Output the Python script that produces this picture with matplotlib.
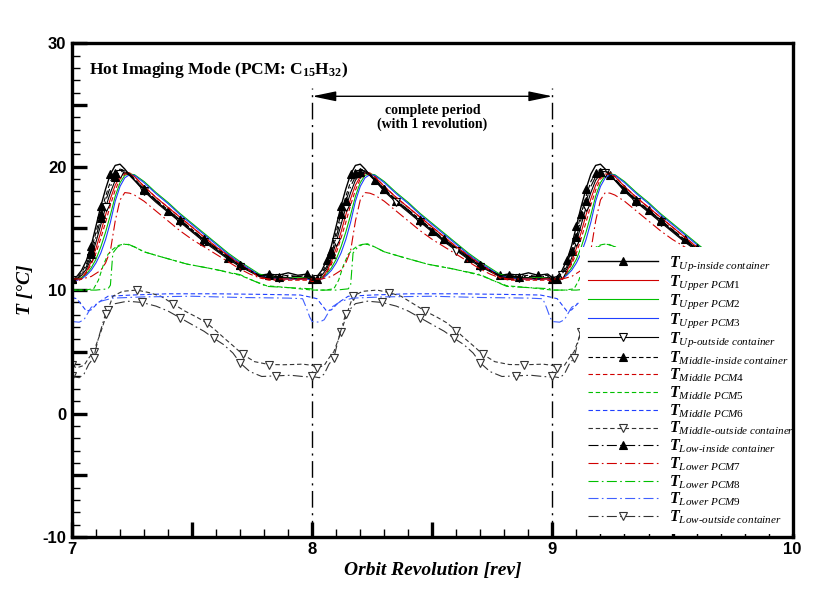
import numpy as np
import matplotlib
matplotlib.use('Agg')
import matplotlib.pyplot as plt
from matplotlib.ticker import MultipleLocator, FuncFormatter

plt.rcParams['mathtext.fontset'] = 'custom'
plt.rcParams['mathtext.rm'] = 'Liberation Serif'
plt.rcParams['mathtext.it'] = 'Liberation Serif:italic'
plt.rcParams['mathtext.bf'] = 'Liberation Serif:bold'
plt.rcParams['mathtext.bfit'] = 'Liberation Serif:italic:bold'

# ---------------- data (one orbit period, phase 0..1) ----------------
revolutions = [7, 8, 9]

ph_up = [0.00, 0.02, 0.04, 0.06, 0.08, 0.10, 0.12, 0.14, 0.16, 0.18, 0.20, 0.22, 0.24, 0.26,
         0.30, 0.35, 0.40, 0.45, 0.50, 0.55, 0.60, 0.65, 0.70, 0.74, 0.78, 0.82, 0.86, 0.90,
         0.94, 0.98, 1.00]
up_inside = [11.0, 11.1, 11.6, 12.4, 13.6, 15.2, 16.8, 18.2, 19.4, 20.1, 20.2, 19.8, 19.3, 18.9,
             18.1, 17.2, 16.4, 15.6, 14.8, 14.0, 13.3, 12.6, 12.0, 11.6, 11.2, 11.3, 11.2, 11.4,
             11.2, 11.3, 11.0]
upper_pcm1 = [10.8, 10.8, 11.0, 11.5, 12.3, 13.4, 14.7, 16.1, 17.4, 18.5, 19.2, 19.5, 19.5, 19.2,
              18.4, 17.5, 16.7, 15.9, 15.1, 14.3, 13.5, 12.8, 12.1, 11.6, 11.1, 10.9, 10.9, 10.9,
              10.9, 10.9, 10.8]
upper_pcm2 = [10.9, 10.9, 11.0, 11.3, 11.8, 12.5, 13.5, 14.7, 16.1, 17.6, 18.7, 19.3, 19.4, 19.35,
              18.8, 17.9, 17.1, 16.2, 15.4, 14.6, 13.8, 13.0, 12.3, 11.8, 11.3, 11.1, 11.0, 11.0,
              11.0, 11.0, 10.9]
upper_pcm3 = [10.8, 10.8, 10.9, 11.2, 11.6, 12.2, 13.0, 14.1, 15.5, 17.2, 18.4, 19.1, 19.35, 19.3,
              18.7, 17.8, 17.0, 16.1, 15.3, 14.5, 13.7, 12.9, 12.2, 11.7, 11.2, 11.0, 10.9, 10.9,
              10.9, 10.9, 10.8]
up_outside = [10.8, 10.9, 11.2, 11.7, 12.6, 13.9, 15.3, 16.7, 17.9, 18.9, 19.4, 19.5, 19.3, 18.9,
              18.0, 17.1, 16.3, 15.5, 14.7, 13.9, 13.2, 12.5, 11.9, 11.5, 11.1, 11.0, 11.0, 11.0,
              10.9, 11.0, 10.8]
mid_inside = [10.9, 11.0, 11.4, 12.1, 13.2, 14.7, 16.2, 17.6, 18.8, 19.5, 19.8, 19.7, 19.4, 19.0,
              18.2, 17.3, 16.5, 15.7, 14.9, 14.1, 13.4, 12.7, 12.0, 11.6, 11.2, 11.2, 11.1, 11.2,
              11.1, 11.2, 10.9]
mid_pcm4 = [10.7, 10.7, 10.9, 11.4, 12.1, 13.0, 14.2, 15.5, 16.9, 18.1, 19.0, 19.4, 19.4, 19.2,
            18.4, 17.5, 16.7, 15.9, 15.1, 14.3, 13.5, 12.8, 12.1, 11.6, 11.0, 10.8, 10.8, 10.8,
            10.8, 10.8, 10.7]
low_inside = [10.9, 10.9, 11.3, 11.9, 12.9, 14.3, 15.8, 17.2, 18.4, 19.2, 19.6, 19.6, 19.4, 19.0,
              18.2, 17.3, 16.5, 15.7, 14.9, 14.1, 13.4, 12.7, 12.0, 11.6, 11.2, 11.1, 11.1, 11.1,
              11.1, 11.1, 10.9]

ph_pcm5 = [0.00, 0.05, 0.09, 0.11, 0.13, 0.15, 0.17, 0.19, 0.21, 0.23, 0.26, 0.30, 0.37, 0.48,
           0.59, 0.70, 0.75, 0.81, 0.90, 1.00]
mid_pcm5 = [10.0, 10.0, 10.1, 10.8, 12.0, 12.9, 13.3, 13.6, 13.7, 13.7, 13.5, 13.1, 12.7, 12.1,
            11.7, 11.2, 10.8, 10.35, 10.2, 10.0]

ph_pcm6 = [0.00, 0.02, 0.04, 0.06, 0.08, 0.11, 0.15, 0.25, 0.40, 0.60, 0.80, 0.95, 1.00]
mid_pcm6 = [9.4, 9.3, 8.8, 8.3, 8.4, 9.0, 9.5, 9.6, 9.7, 9.7, 9.65, 9.6, 9.4]

ph_mid_out = [0.00, 0.02, 0.05, 0.07, 0.09, 0.12, 0.15, 0.17, 0.21, 0.27, 0.32, 0.37, 0.42, 0.47,
              0.52, 0.56, 0.60, 0.64, 0.67, 0.71, 0.76, 0.82, 0.88, 0.92, 0.96, 1.00]
mid_outside = [3.9, 3.7, 3.9, 4.5, 5.0, 6.6, 8.4, 9.5, 9.9, 10.0, 9.8, 9.5, 8.9, 8.3,
               7.8, 7.35, 6.7, 6.0, 5.5, 4.8, 4.2, 3.97, 3.95, 3.97, 4.0, 3.9]

ph_pcm7 = [0.00, 0.04, 0.08, 0.12, 0.14, 0.16, 0.18, 0.20, 0.22, 0.24, 0.26, 0.30, 0.35, 0.40,
           0.45, 0.50, 0.55, 0.60, 0.65, 0.70, 0.74, 0.78, 0.82, 0.90, 1.00]
low_pcm7 = [10.9, 10.9, 11.1, 11.6, 12.2, 13.2, 15.6, 17.3, 17.9, 17.85, 17.7, 17.2, 16.4, 15.6,
            14.8, 14.1, 13.5, 12.9, 12.3, 11.7, 11.3, 11.0, 10.9, 10.9, 10.9]

ph_pcm8 = [0.00, 0.05, 0.10, 0.15, 0.16, 0.17, 0.19, 0.21, 0.23, 0.26, 0.30, 0.37, 0.48, 0.59,
           0.70, 0.75, 0.81, 0.90, 1.00]
low_pcm8 = [10.0, 10.0, 10.0, 10.1, 10.4, 13.0, 13.5, 13.7, 13.75, 13.5, 13.1, 12.7, 12.1, 11.7,
            11.25, 10.8, 10.3, 10.2, 10.1]

ph_pcm9 = [0.00, 0.03, 0.05, 0.08, 0.12, 0.17, 0.30, 0.50, 0.70, 0.90, 0.96, 0.975, 0.99, 1.00]
low_pcm9 = [7.45, 7.4, 7.6, 8.6, 9.1, 9.35, 9.45, 9.5, 9.4, 9.35, 9.3, 8.6, 7.8, 7.45]

ph_low_out = [0.00, 0.03, 0.05, 0.07, 0.09, 0.11, 0.14, 0.18, 0.23, 0.29, 0.35, 0.40, 0.45, 0.50,
              0.55, 0.59, 0.63, 0.67, 0.70, 0.74, 0.79, 0.85, 0.91, 0.96, 1.00]
low_outside = [3.0, 2.9, 3.2, 4.0, 4.5, 6.1, 8.1, 8.9, 9.1, 9.0, 8.7, 8.3, 7.75, 7.2,
               6.66, 6.1, 5.6, 4.9, 4.1, 3.4, 3.0, 3.05, 3.1, 3.0, 2.95]

period_bounds = [8, 9]
x_ticklabels = ['7', '8', '9', '10']

HY = '\u2010'
def lab(s):
    s = s.replace(' ', r'\ ').replace('-', HY)
    return r'$\mathbfit{T}_{\mathit{' + s + '}}$'

RED, GRN, BLU = '#d00000', '#00c000', '#1f3fff'
DASH = (0, (4, 2.5))
DDOT = (0, (9, 3, 1.5, 3))

series = [
    (ph_up, up_inside, 'Up-inside container', 'k', '-', '^', 'k', 1.0),
    (ph_up, upper_pcm1, 'Upper PCM1', RED, '-', None, None, 0.8),
    (ph_up, upper_pcm2, 'Upper PCM2', GRN, '-', None, None, 0.8),
    (ph_up, upper_pcm3, 'Upper PCM3', BLU, '-', None, None, 0.8),
    (ph_up, up_outside, 'Up-outside container', 'k', '-', 'v', 'white', 0.8),
    (ph_up, mid_inside, 'Middle-inside container', 'k', DASH, '^', 'k', 0.8),
    (ph_up, mid_pcm4, 'Middle PCM4', RED, DASH, None, None, 0.8),
    (ph_pcm5, mid_pcm5, 'Middle PCM5', GRN, DASH, None, None, 0.8),
    (ph_pcm6, mid_pcm6, 'Middle PCM6', BLU, DASH, None, None, 0.8),
    (ph_mid_out, mid_outside, 'Middle-outside container', '#333333', DASH, 'v', 'white', 0.8),
    (ph_up, low_inside, 'Low-inside container', 'k', DDOT, '^', 'k', 0.8),
    (ph_pcm7, low_pcm7, 'Lower PCM7', RED, DDOT, None, None, 0.8),
    (ph_pcm8, low_pcm8, 'Lower PCM8', GRN, DDOT, None, None, 0.8),
    (ph_pcm9, low_pcm9, 'Lower PCM9', '#4060ff', DDOT, None, None, 0.8),
    (ph_low_out, low_outside, 'Low-outside container', '#333333', DDOT, 'v', 'white', 0.8),
]

fig = plt.figure(figsize=(8.18, 5.92), dpi=100)
ax = fig.add_axes([0.088, 0.093, 0.881, 0.834])

for ph, vals, name, col, ls, mk, mfc, lw in series:
    xs = np.concatenate([r + np.asarray(ph) for r in revolutions])
    ys = np.concatenate([np.asarray(vals) for r in revolutions])
    kw = {}
    if mk is not None:
        kw = dict(marker=mk, markersize=6, markerfacecolor=mfc, markeredgecolor=col,
                  markeredgewidth=0.8, markevery=0.045)
    ax.plot(xs, ys, color=col, linestyle=ls, lw=lw, label=lab(name), **kw)

ax.set_xlim(7, 10)
ax.set_ylim(-10, 30)

# period annotation
for xb in period_bounds:
    ax.plot([xb, xb], [-10, 26.4], color='k', lw=1.0, linestyle=(0, (12, 4, 1.5, 4)), zorder=1)
ax.annotate('', xy=(period_bounds[1], 25.7), xytext=(period_bounds[0], 25.7),
            arrowprops=dict(arrowstyle='<|-|>,head_length=1.2,head_width=0.25', color='k',
                            lw=1.0, mutation_scale=12, shrinkA=0, shrinkB=0))
ax.text(np.mean(period_bounds), 24.0, 'complete period\n(with 1 revolution)', ha='center',
        va='center', fontfamily='Liberation Serif', fontweight='bold', fontsize=10,
        linespacing=1.05)

ax.text(0.024, 0.965, r'Hot Imaging Mode (PCM: C$_{\mathbf{15}}$H$_{\mathbf{32}}$)',
        transform=ax.transAxes, ha='left', va='top', fontfamily='Liberation Serif',
        fontweight='bold', fontsize=12.5)

# axes styling
for sp in ax.spines.values():
    sp.set_linewidth(2.4)
    sp.set_zorder(20)
ax.xaxis.set_major_locator(MultipleLocator(0.5))
ax.xaxis.set_minor_locator(MultipleLocator(0.1))
ax.yaxis.set_major_locator(MultipleLocator(5))
ax.yaxis.set_minor_locator(MultipleLocator(1))
ax.xaxis.set_major_formatter(FuncFormatter(
    lambda v, p: x_ticklabels[int(round(v)) - 7] if abs(v - round(v)) < 1e-6 else ''))
ax.yaxis.set_major_formatter(FuncFormatter(
    lambda v, p: '%d' % v if abs(v / 10 - round(v / 10)) < 1e-6 else ''))
ax.tick_params(which='major', direction='in', length=11, width=2.4, top=False, right=False,
               labelsize=12, pad=4)
ax.tick_params(which='minor', direction='in', length=6, width=1.0, top=False, right=False)
for t in ax.get_xticklabels() + ax.get_yticklabels():
    t.set_fontfamily('Liberation Sans')
    t.set_fontweight('bold')

ax.set_xlabel('Orbit Revolution [rev]', fontfamily='Liberation Serif', fontstyle='italic',
              fontweight='bold', fontsize=14, labelpad=3)
ax.set_ylabel('T [\u00b0C]', fontfamily='Liberation Serif', fontstyle='italic',
              fontweight='bold', fontsize=14, labelpad=6)

leg = ax.legend(loc='upper left', bbox_to_anchor=(0.705, 0.588), borderaxespad=0,
                fontsize=11.5, handlelength=4.4, handletextpad=0.65, labelspacing=0.02,
                borderpad=0.5, frameon=True, fancybox=False, framealpha=1.0,
                edgecolor='none', facecolor='white', numpoints=1)
leg.set_zorder(10)

fig.savefig('out.png', dpi=100)
